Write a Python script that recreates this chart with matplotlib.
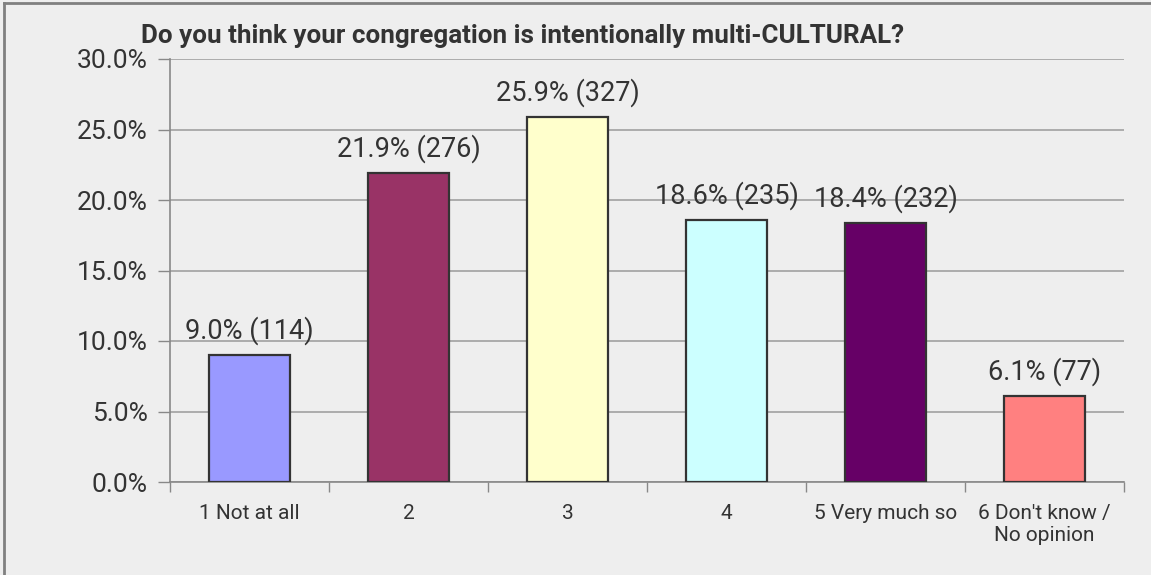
import matplotlib.pyplot as plt
from matplotlib.lines import Line2D
from matplotlib.ticker import FuncFormatter, FixedLocator

categories = ['1 Not at all', '2', '3', '4', '5 Very much so', "6 Don't know /\nNo opinion"]
percents = [9.0, 21.9, 25.9, 18.6, 18.4, 6.1]
counts = [114, 276, 327, 235, 232, 77]
colors = ['#9999FF', '#993366', '#FFFFCC', '#CCFFFF', '#660066', '#FF8080']

title = 'Do you think your congregation is intentionally multi-CULTURAL?'

plt.rcParams['font.family'] = ['Roboto', 'DejaVu Sans']
txt = '#333333'
bg = '#EEEEEE'

fig = plt.figure(figsize=(11.51, 5.75), dpi=100, facecolor=bg)
ax = fig.add_axes([170/1151, 1-482/575, 954/1151, 423/575])
ax.set_facecolor(bg)

x = list(range(len(categories)))
ax.bar(x, percents, width=0.505, color=colors, edgecolor='#333333', linewidth=1.6, zorder=3)

for xi, p, n in zip(x, percents, counts):
    ax.annotate(f'{p:.1f}% ({n})', (xi, p), xytext=(0, 7), textcoords='offset points',
                ha='center', va='bottom', fontsize=19.5, color=txt)

ax.set_xlim(-0.5, len(categories) - 0.5)
ax.set_ylim(0, 30)
ax.set_yticks([0, 5, 10, 15, 20, 25, 30])
ax.yaxis.set_major_formatter(FuncFormatter(lambda v, _: f'{v:.1f}%'))
ax.yaxis.grid(True, color='#A0A0A0', linewidth=1.2, zorder=0)
ax.tick_params(axis='y', length=9, width=1, color='#888888', pad=7, labelsize=19, labelcolor=txt)

ax.set_xticks(x)
ax.set_xticklabels(categories)
ax.xaxis.set_minor_locator(FixedLocator([i - 0.5 for i in range(len(categories) + 1)]))
ax.tick_params(axis='x', which='major', length=0, pad=16, labelsize=15, labelcolor=txt)
ax.tick_params(axis='x', which='minor', length=7, width=1, color='#888888')

for s in ['top', 'right']:
    ax.spines[s].set_visible(False)
for s in ['left', 'bottom']:
    ax.spines[s].set_color('#888888')
    ax.spines[s].set_linewidth(1.2)

fig.text(141/1151, 1-36/575, title, ha='left', va='center', fontsize=18.7,
         fontweight='bold', color=txt)

# outer frame (only left and top edges visible)
fig.add_artist(Line2D([4/1151, 4/1151], [0, 1-3/575], transform=fig.transFigure, color='#808080', linewidth=2))
fig.add_artist(Line2D([4/1151, 1], [1-3/575, 1-3/575], transform=fig.transFigure, color='#808080', linewidth=2))

fig.savefig('out.png', dpi=100, facecolor=bg)
